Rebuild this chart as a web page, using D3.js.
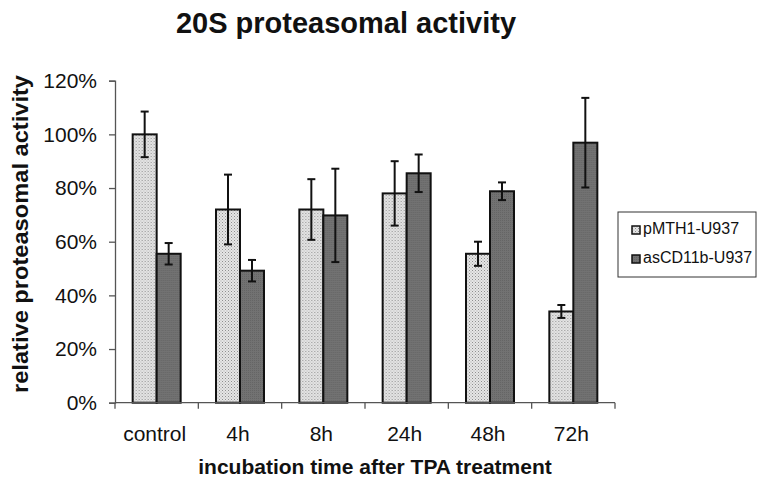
<!DOCTYPE html>
<html>
<head>
<meta charset="utf-8">
<script src="https://cdn.jsdelivr.net/npm/d3@7"></script>
<style>
  body { margin: 0; background: #fff; }
  text { font-family: "Liberation Sans", Arial, sans-serif; fill: #111; }
</style>
</head>
<body>
<div id="chart"></div>
<script>
// data
var categories = ["control", "4h", "8h", "24h", "48h", "72h"];
var seriesNames = ["pMTH1-U937", "asCD11b-U937"];
var pmthValues = [100, 72, 72, 78, 55.5, 34];
var pmthErrors = [8.5, 13, 11.3, 12, 4.5, 2.4];
var ascdValues = [55.5, 49.2, 69.8, 85.5, 78.8, 96.9];
var ascdErrors = [4, 4, 17.4, 7, 3.3, 16.7];
var yTicks = [0, 20, 40, 60, 80, 100, 120];

var width = 758,
    height = 491;

var svg = d3.select("#chart")
  .append("svg")
  .attr("width", width)
  .attr("height", height);

// fill patterns
var defs = svg.append("defs");
var light = defs.append("pattern")
  .attr("id", "lightDots")
  .attr("patternUnits", "userSpaceOnUse")
  .attr("width", 3).attr("height", 3);
light.append("rect").attr("width", 3).attr("height", 3).attr("fill", "#e6e6e6");
light.append("rect").attr("width", 1).attr("height", 1).attr("fill", "#8f8f8f");
light.append("rect").attr("x", 1.5).attr("y", 1.5).attr("width", 1).attr("height", 1).attr("fill", "#a8a8a8");

var dark = defs.append("pattern")
  .attr("id", "darkDots")
  .attr("patternUnits", "userSpaceOnUse")
  .attr("width", 2).attr("height", 2);
dark.append("rect").attr("width", 2).attr("height", 2).attr("fill", "#727272");
dark.append("rect").attr("width", 1).attr("height", 1).attr("fill", "#656565");

var fills = ["url(#lightDots)", "url(#darkDots)"];

var x0 = 115, x1 = 615,
    yTop = 80.7, yBottom = 402.7;

var x = d3.scaleBand()
  .domain(categories)
  .range([x0, x1])
  .paddingInner(0)
  .paddingOuter(0);

var xSub = d3.scaleBand()
  .domain(seriesNames)
  .range([0, 48]);

var y = d3.scaleLinear()
  .domain([0, 120])
  .range([yBottom, yTop]);

var rows = categories.map(function(c, i) {
  return {
    cat: c,
    bars: [
      {name: seriesNames[0], v: pmthValues[i], e: pmthErrors[i]},
      {name: seriesNames[1], v: ascdValues[i], e: ascdErrors[i]}
    ]
  };
});

// bars
var groups = svg.append("g").selectAll("g")
  .data(rows).enter()
  .append("g")
  .attr("transform", function(d) {
    return "translate(" + (x(d.cat) + x.bandwidth() / 2 - 24) + ",0)";
  });

groups.selectAll("rect")
  .data(function(d) { return d.bars; }).enter()
  .append("rect")
  .attr("x", function(d) { return xSub(d.name); })
  .attr("y", function(d) { return y(d.v); })
  .attr("width", xSub.bandwidth())
  .attr("height", function(d) { return y(0) - y(d.v); })
  .attr("fill", function(d, i) { return fills[i]; })
  .attr("stroke", "#111")
  .attr("stroke-width", 2);

// error bars
var err = groups.selectAll("g.err")
  .data(function(d) { return d.bars; }).enter()
  .append("g")
  .attr("class", "err")
  .attr("stroke", "#111")
  .attr("stroke-width", 2);

err.append("line")
  .attr("x1", function(d) { return xSub(d.name) + xSub.bandwidth() / 2; })
  .attr("x2", function(d) { return xSub(d.name) + xSub.bandwidth() / 2; })
  .attr("y1", function(d) { return y(d.v + d.e); })
  .attr("y2", function(d) { return y(d.v - d.e); });

err.append("line")
  .attr("x1", function(d) { return xSub(d.name) + xSub.bandwidth() / 2 - 4; })
  .attr("x2", function(d) { return xSub(d.name) + xSub.bandwidth() / 2 + 4; })
  .attr("y1", function(d) { return y(d.v + d.e); })
  .attr("y2", function(d) { return y(d.v + d.e); });

err.append("line")
  .attr("x1", function(d) { return xSub(d.name) + xSub.bandwidth() / 2 - 4; })
  .attr("x2", function(d) { return xSub(d.name) + xSub.bandwidth() / 2 + 4; })
  .attr("y1", function(d) { return y(d.v - d.e); })
  .attr("y2", function(d) { return y(d.v - d.e); });

// y axis
var yAxis = svg.append("g")
  .attr("transform", "translate(" + x0 + ",0)")
  .call(d3.axisLeft(y).tickValues(yTicks).tickSize(6).tickPadding(12)
    .tickFormat(function(d) { return d + "%"; }));
yAxis.select(".domain").attr("stroke", "#555").attr("stroke-width", 1.3);
yAxis.selectAll(".tick line").attr("stroke", "#555").attr("stroke-width", 1.3);
yAxis.selectAll(".tick text")
  .style("font-family", "'Liberation Sans', Arial, sans-serif")
  .style("font-size", "21px")
  .attr("fill", "#111");

// x axis, ticks on band boundaries
var xAxisG = svg.append("g")
  .attr("transform", "translate(0," + yBottom + ")");
xAxisG.append("line")
  .attr("x1", x0).attr("x2", x1)
  .attr("stroke", "#555").attr("stroke-width", 1.3);
var bounds = categories.map(function(c) { return x(c); }).concat([x1]);
xAxisG.selectAll("line.tk")
  .data(bounds).enter()
  .append("line")
  .attr("class", "tk")
  .attr("x1", function(d) { return d; })
  .attr("x2", function(d) { return d; })
  .attr("y1", 0).attr("y2", 6)
  .attr("stroke", "#555").attr("stroke-width", 1.3);
xAxisG.selectAll("text")
  .data(categories).enter()
  .append("text")
  .attr("x", function(d) { return x(d) + x.bandwidth() / 2 - 2; })
  .attr("y", 38)
  .attr("text-anchor", "middle")
  .style("font-size", "21px")
  .text(function(d) { return d; });

// titles
svg.append("text")
  .attr("x", 346).attr("y", 33)
  .attr("text-anchor", "middle")
  .style("font-size", "29px")
  .style("font-weight", "bold")
  .text("20S proteasomal activity");

svg.append("text")
  .attr("transform", "translate(28,234) rotate(-90)")
  .attr("text-anchor", "middle")
  .attr("textLength", 318)
  .attr("lengthAdjust", "spacingAndGlyphs")
  .style("font-size", "22px")
  .style("font-weight", "bold")
  .text("relative proteasomal activity");

svg.append("text")
  .attr("x", 375).attr("y", 474)
  .attr("text-anchor", "middle")
  .style("font-size", "21px")
  .style("font-weight", "bold")
  .text("incubation time after TPA treatment");

// legend
var legend = svg.append("g")
  .attr("class", "legend")
  .attr("transform", "translate(618,212)");
legend.append("rect")
  .attr("width", 138).attr("height", 65)
  .attr("fill", "#fff")
  .attr("stroke", "#333").attr("stroke-width", 1);
var items = legend.selectAll("g.item")
  .data(seriesNames).enter()
  .append("g")
  .attr("transform", function(d, i) { return "translate(14," + (22 + i * 29) + ")"; });
items.append("rect")
  .attr("x", 0).attr("y", -8)
  .attr("width", 8).attr("height", 8)
  .attr("fill", function(d, i) { return fills[i]; })
  .attr("stroke", "#111").attr("stroke-width", 1.5);
items.append("text")
  .attr("x", 11).attr("y", 0)
  .style("font-size", "16px")
  .text(function(d) { return d; });
</script>
</body>
</html>
